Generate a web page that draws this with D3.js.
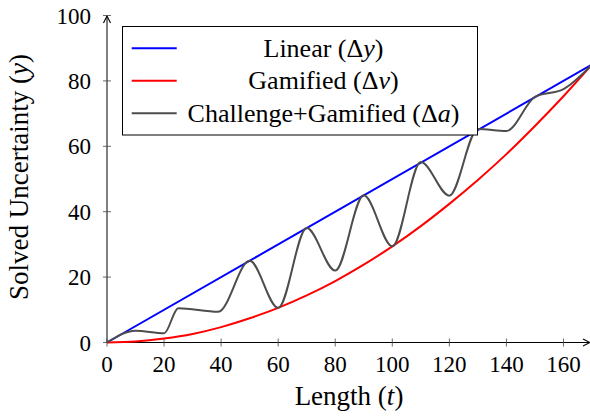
<!DOCTYPE html>
<html><head><meta charset="utf-8">
<script src="https://cdn.jsdelivr.net/npm/d3@7"></script>
<style>
body{margin:0;background:#fff;}
svg{display:block;}
</style></head>
<body><svg id="c" width="590" height="418"></svg>
<script>
// ---- data ----
const xTicks = [0,20,40,60,80,100,120,140,160];
const yTicks = [0,20,40,60,80,100];
const linearT = [0,170];
const linearY = [0,85];
const gamifiedT = [0,10,20,30,40,50,60,70,80,90,100,110,120,130,140,150,160,170];
const gamifiedY = [0,0.3,1.2,2.6,4.7,7.4,10.6,14.4,18.8,23.8,29.4,35.6,42.4,49.7,57.6,66.2,75.3,85];
const challengeT = [0,10,20,25,39,50,60,70,80,90,100,110,120,130,140,150,160,170];
const challengeY = [0,3.6,2.8,10.5,9.4,25,10.6,35,22,45,29.4,55.2,44.9,65.3,64.7,75.1,77.5,85];
const seriesNames = ["Linear", "Gamified", "Challenge+Gamified"];
const seriesSyms = ["y","v","a"];
const seriesColors = ["#0000ff","#ff0000","#4d4d4d"];

// ---- chart ----
const FONT = "Liberation Serif";
const svg = d3.select("#c");
const x = d3.scaleLinear().domain([0,170]).range([107,592]);
const y = d3.scaleLinear().domain([0,100]).range([342.5,15.5]);

const tickFont = 23, labelFont = 27, legFont = 26;

// text placed with start anchor, shifted by measured width
function place(t, px, py, anchor){
  t.attr("x",px).attr("y",py);
  const w = t.node().getComputedTextLength();
  const dx = anchor==="middle" ? w/2 : anchor==="end" ? w : 0;
  t.attr("x",px-dx);
  return t;
}
function txt(parent, size){
  return parent.append("text").attr("font-family",FONT).attr("font-size",size);
}

// x axis line
svg.append("line").attr("x1",x(0)).attr("x2",589).attr("y1",y(0)).attr("y2",y(0))
  .attr("stroke","#000").attr("stroke-width",1);
svg.append("path").attr("d",`M583,${y(0)-3.5} L590,${y(0)} L583,${y(0)+3.5}`)
  .attr("fill","none").attr("stroke","#000").attr("stroke-width",1.1);
// y axis line
svg.append("line").attr("x1",x(0)).attr("x2",x(0)).attr("y1",y(0)).attr("y2",16)
  .attr("stroke","#000").attr("stroke-width",1);
svg.append("path").attr("d",`M${x(0)-3.5},23 L${x(0)},16 L${x(0)+3.5},23`)
  .attr("fill","none").attr("stroke","#000").attr("stroke-width",1.1);

// ticks
svg.append("g").selectAll("line").data(xTicks).join("line")
  .attr("x1",d=>x(d)).attr("x2",d=>x(d)).attr("y1",y(0)-4).attr("y2",y(0)+4)
  .attr("stroke","#444").attr("stroke-width",0.8);
svg.append("g").selectAll("line").data(yTicks).join("line")
  .attr("x1",x(0)-4).attr("x2",x(0)+4).attr("y1",d=>y(d)).attr("y2",d=>y(d))
  .attr("stroke","#444").attr("stroke-width",0.8);
xTicks.forEach(d=>{ place(txt(svg,tickFont).text(d), x(d), 372, "middle"); });
yTicks.forEach(d=>{ place(txt(svg,tickFont).text(d), 91, y(d)+8, "end"); });

// axis labels
const xl = txt(svg,labelFont);
xl.append("tspan").text("Length (");
xl.append("tspan").attr("font-style","italic").text("t");
xl.append("tspan").text(")");
place(xl, 349, 405, "middle");
const yl = txt(svg,labelFont).attr("transform","translate(28,177) rotate(-90)");
yl.append("tspan").text("Solved Uncertainty (");
yl.append("tspan").attr("font-style","italic").text("y");
yl.append("tspan").text(")");
place(yl, 0, 0, "middle");

// lines
const line = d3.line().x(d=>x(d[0])).y(d=>y(d[1])).curve(d3.curveMonotoneX);
const series = [
  d3.zip(linearT, linearY),
  d3.zip(gamifiedT, gamifiedY),
  d3.zip(challengeT, challengeY)
];
series.forEach((s,i)=>{
  svg.append("path").attr("d",line(s)).attr("fill","none")
    .attr("stroke",seriesColors[i]).attr("stroke-width",2);
});

// legend
svg.append("rect").attr("x",122.5).attr("y",26.5).attr("width",355).attr("height",108.5)
  .attr("fill","#fff").attr("stroke","#000").attr("stroke-width",1);
const rows = [48.3,80.7,113.3];
seriesNames.forEach((n,i)=>{
  svg.append("line").attr("x1",131.7).attr("x2",176.7).attr("y1",rows[i]).attr("y2",rows[i])
    .attr("stroke",seriesColors[i]).attr("stroke-width",2);
  const t = txt(svg,legFont);
  t.append("tspan").text(n+" (\u0394");
  t.append("tspan").attr("font-style","italic").text(seriesSyms[i]);
  t.append("tspan").text(")");
  place(t, 323.5, rows[i]+8.5, "middle");
});
</script></body></html>
